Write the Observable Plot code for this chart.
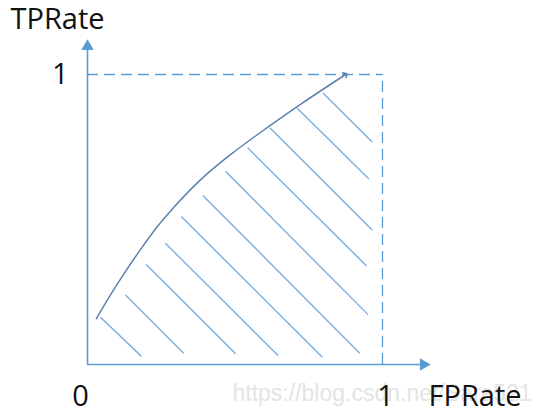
<!DOCTYPE html>
<html>
<head>
<meta charset="utf-8">
<script src="https://cdn.jsdelivr.net/npm/d3@7"></script>
<script src="https://cdn.jsdelivr.net/npm/@observablehq/plot@0.6"></script>
<style>
  html, body { margin: 0; padding: 0; background: #ffffff; }
  svg { display: block; }
</style>
</head>
<body>
<div id="chart"></div>
<script>
// ROC curve (FPRate, TPRate)
const curveFPR = [0.030, 0.078, 0.129, 0.180, 0.237, 0.292, 0.349, 0.407, 0.485, 0.586, 0.722, 0.875];
const curveTPR = [0.158, 0.240, 0.321, 0.397, 0.476, 0.541, 0.603, 0.659, 0.724, 0.800, 0.897, 1.000];

// hatch segments under the curve (start on curve side, end at bottom/right)
const hatchX1 = [0.044, 0.129, 0.199, 0.264, 0.318, 0.391, 0.468, 0.543, 0.618, 0.711, 0.798];
const hatchY1 = [0.163, 0.240, 0.345, 0.418, 0.510, 0.583, 0.666, 0.747, 0.816, 0.884, 0.936];
const hatchX2 = [0.183, 0.326, 0.502, 0.646, 0.796, 0.923, 0.951, 0.946, 0.965, 0.954, 0.965];
const hatchY2 = [0.028, 0.039, 0.037, 0.031, 0.025, 0.039, 0.172, 0.340, 0.464, 0.640, 0.767];

const originLabel = ["0"];
const xTicks = [1];
const xTickLabels = ["1"];
const yTicks = [1];
const yTickLabels = ["1"];
const xTitle = ["FPRate"];
const yTitle = ["TPRate"];
const watermark = ["https://blog.csdn.net/Sara521"];

const curve = curveFPR.map((x, i) => ({x, y: curveTPR[i]}));
const hatch = hatchX1.map((x1, i) => ({x1, y1: hatchY1[i], x2: hatchX2[i], y2: hatchY2[i]}));

const axisBlue = "#5b9bd5";
const font = "Open Sans";

const chart = Plot.plot({
  width: 547,
  height: 419,
  marginTop: 0, marginRight: 0, marginBottom: 0, marginLeft: 0,
  x: {domain: [0, 1], range: [87, 382], axis: null},
  y: {domain: [0, 1], range: [364, 74], axis: null},
  style: {background: "#ffffff", fontFamily: font},
  marks: [
    // watermark (behind)
    Plot.text(watermark, {x: 0, y: 0, text: d => d, textAnchor: "start", lineAnchor: "middle",
      dx: 145, dy: 29, fontSize: 23, fontFamily: "Liberation Sans", fill: "#e4e4e4"}),
    // hatch lines
    Plot.link(hatch, {x1: "x1", y1: "y1", x2: "x2", y2: "y2", stroke: "#7aaee0", strokeWidth: 1.4}),
    // dashed bounding lines at 1
    Plot.ruleY([1], {x1: 0, x2: 1, stroke: axisBlue, strokeWidth: 1.3, strokeDasharray: "11,6"}),
    Plot.ruleX([1], {y1: 0, y2: 1, stroke: axisBlue, strokeWidth: 1.3, strokeDasharray: "11,6"}),
    // axes
    Plot.ruleY([0], {x1: 0, x2: 1.14, stroke: axisBlue, strokeWidth: 1.6}),
    Plot.ruleX([0], {y1: 0, y2: 1.097, stroke: axisBlue, strokeWidth: 1.6}),
    Plot.dot([{x: 1.139, y: 0}], {x: "x", y: "y", symbol: "triangle", r: 4.6, fill: axisBlue, stroke: null, rotate: 90}),
    Plot.dot([{x: 0, y: 1.097}], {x: "x", y: "y", symbol: "triangle", r: 4.6, fill: axisBlue, stroke: null}),
    // ROC curve
    Plot.line(curve, {x: "x", y: "y", curve: "monotone-x", stroke: "#5b82ad", strokeWidth: 1.5, markerEnd: "arrow"}),
    // tick labels
    Plot.text(originLabel, {x: 0, y: 0, text: d => d, dx: -7, dy: 32, lineAnchor: "middle", fontSize: 29, fill: "#111"}),
    Plot.text(xTicks, {x: d => d, y: 0, text: (d, i) => xTickLabels[i], dx: 3, dy: 32, lineAnchor: "middle", fontSize: 29, fill: "#111"}),
    Plot.text(yTicks, {x: 0, y: d => d, text: (d, i) => yTickLabels[i], textAnchor: "end", dx: -19, lineAnchor: "middle", fontSize: 29, fill: "#111"}),
    // axis titles
    Plot.text(xTitle, {x: 1, y: 0, text: d => d, textAnchor: "start", dx: 46, dy: 32, lineAnchor: "middle", fontSize: 29, fill: "#111"}),
    Plot.text(yTitle, {x: 0, y: 1, text: d => d, textAnchor: "start", dx: -77, dy: -55, lineAnchor: "middle", fontSize: 29, fill: "#111"})
  ]
});

document.getElementById("chart").appendChild(chart);
</script>
</body>
</html>
